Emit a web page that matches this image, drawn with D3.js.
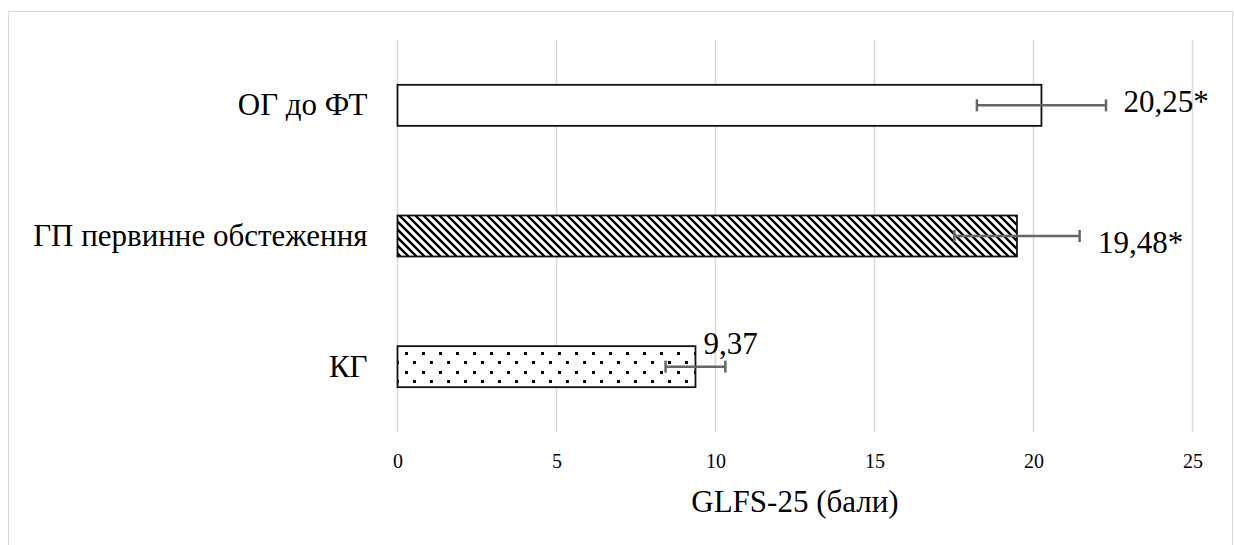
<!DOCTYPE html>
<html>
<head>
<meta charset="utf-8">
<script src="https://cdn.jsdelivr.net/npm/d3@7"></script>
<style>
  body { margin: 0; background: #fff; }
  svg text { font-family: "Liberation Serif", "Times New Roman", serif; fill: #000; }
</style>
</head>
<body>
<div id="chart"></div>
<script>
// data
const categories = ["ОГ до ФТ", "ГП первинне обстеження", "КГ"];
const values = [20.25, 19.48, 9.37];
const errors = [2.03, 1.97, 0.94];
const valueLabels = ["20,25*", "19,48*", "9,37"];
const fills = ["white", "url(#hatch)", "url(#dots)"];
const tickValues = [0, 5, 10, 15, 20, 25];
const axisTitle = "GLFS-25 (бали)";

// manual label placement (px from bar end / bar centre)
const labelDx = [82, 81, 8];
const labelDy = [7, 17, -13];

const serif = "'Liberation Serif', 'Times New Roman', serif";
const width = 1234;
const height = 545;
const plot = { left: 397.5, right: 1192.5, top: 40, bottom: 432 };

const svg = d3.select("#chart").append("svg")
    .attr("width", width)
    .attr("height", height)
    .attr("font-family", serif);

// patterns
const defs = svg.append("defs");
const hatch = defs.append("pattern")
    .attr("id", "hatch")
    .attr("patternUnits", "userSpaceOnUse")
    .attr("width", 8)
    .attr("height", 8);
hatch.append("rect").attr("width", 8).attr("height", 8).attr("fill", "white");
hatch.append("path")
    .attr("d", "M-2,-2L10,10M-2,6L2,10M6,-2L10,2")
    .attr("stroke", "black")
    .attr("stroke-width", 2.4);

const dots = defs.append("pattern")
    .attr("id", "dots")
    .attr("patternUnits", "userSpaceOnUse")
    .attr("width", 17)
    .attr("height", 19)
    .attr("x", 398)
    .attr("y", 345);
dots.append("rect").attr("width", 17).attr("height", 19).attr("fill", "white");
dots.selectAll("rect.dot")
    .data([[7, 7], [15, 16], [-2, 16]])
    .join("rect")
    .attr("class", "dot")
    .attr("x", d => d[0])
    .attr("y", d => d[1])
    .attr("width", 2.5)
    .attr("height", 2.5)
    .attr("fill", "black")
    .attr("shape-rendering", "crispEdges");

// outer frame
svg.append("rect")
    .attr("x", 8.5)
    .attr("y", 11.5)
    .attr("width", 1224)
    .attr("height", 560)
    .attr("fill", "none")
    .attr("stroke", "#d9d9d9")
    .attr("stroke-width", 1);

const x = d3.scaleLinear()
    .domain([0, 25])
    .range([plot.left, plot.right]);

const y = d3.scaleBand()
    .domain(categories)
    .range([plot.top, plot.bottom])
    .paddingInner(0.686)
    .paddingOuter(0.343);

// grid
svg.append("g")
    .selectAll("line")
    .data(tickValues)
    .join("line")
    .attr("x1", d => x(d))
    .attr("x2", d => x(d))
    .attr("y1", plot.top)
    .attr("y2", plot.bottom)
    .attr("stroke", "#d9d9d9")
    .attr("stroke-width", 1.5);

// x axis labels
const xAxis = d3.axisBottom(x).tickValues(tickValues).tickSize(0).tickPadding(0);
const gx = svg.append("g")
    .attr("transform", `translate(0,${plot.bottom + 22})`)
    .call(xAxis)
    .attr("font-family", serif)
    .attr("font-size", 20);
gx.select(".domain").remove();
gx.selectAll("text")
    .attr("dy", "0.71em");

// category labels
const yAxis = d3.axisLeft(y).tickSize(0).tickPadding(30);
const gy = svg.append("g")
    .attr("transform", `translate(${plot.left},0)`)
    .call(yAxis)
    .attr("font-family", serif)
    .attr("font-size", 31);
gy.select(".domain").remove();

// bars
const rows = categories.map((c, i) => ({ c, v: values[i], e: errors[i], label: valueLabels[i], fill: fills[i], i }));

svg.append("g")
    .selectAll("rect")
    .data(rows)
    .join("rect")
    .attr("x", x(0))
    .attr("y", d => y(d.c))
    .attr("width", d => x(d.v) - x(0))
    .attr("height", y.bandwidth())
    .attr("fill", d => d.fill)
    .attr("stroke", "#111")
    .attr("stroke-width", 1.8);

// error bars
const err = svg.append("g")
    .attr("stroke", "#666")
    .attr("stroke-width", 2.5)
    .selectAll("g")
    .data(rows)
    .join("g")
    .attr("transform", d => `translate(0,${y(d.c) + y.bandwidth() / 2})`);

err.append("line")
    .attr("x1", d => x(d.v - d.e))
    .attr("x2", d => x(d.v + d.e));
err.append("line")
    .attr("x1", d => x(d.v - d.e))
    .attr("x2", d => x(d.v - d.e))
    .attr("y1", -6)
    .attr("y2", 6);
err.append("line")
    .attr("x1", d => x(d.v + d.e))
    .attr("x2", d => x(d.v + d.e))
    .attr("y1", -6)
    .attr("y2", 6);

// value labels
svg.append("g")
    .selectAll("text")
    .data(rows)
    .join("text")
    .attr("x", d => x(d.v) + labelDx[d.i])
    .attr("y", d => y(d.c) + y.bandwidth() / 2 + labelDy[d.i])
    .attr("font-size", 31)
    .text(d => d.label);

// axis title
svg.append("text")
    .attr("x", (plot.left + plot.right) / 2)
    .attr("y", 512)
    .attr("text-anchor", "middle")
    .attr("font-size", 31)
    .text(axisTitle);
</script>
</body>
</html>
